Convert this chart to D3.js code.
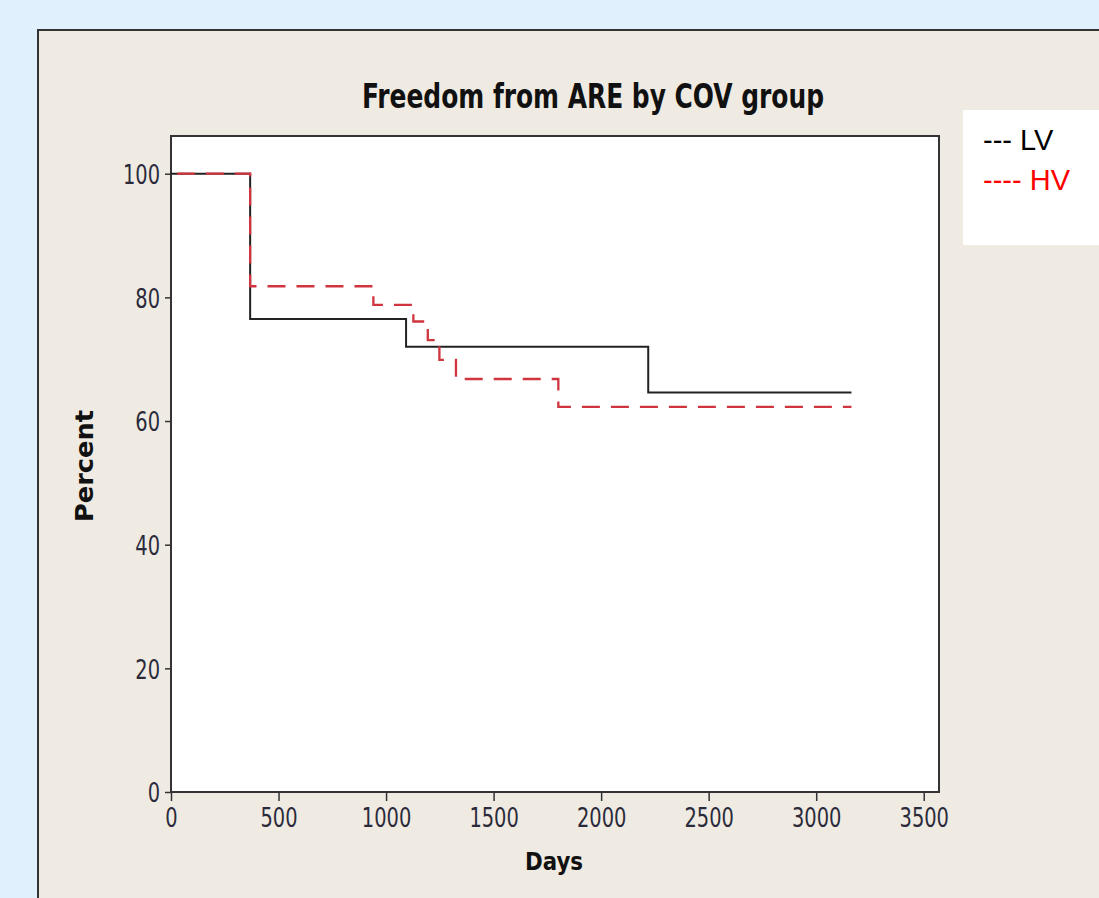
<!DOCTYPE html>
<html>
<head>
<meta charset="utf-8">
<script src="https://cdn.jsdelivr.net/npm/d3@7/dist/d3.min.js"></script>
<style>
  html, body { margin: 0; padding: 0; background: #e0f0fc; }
  svg { display: block; }
</style>
</head>
<body>
<svg id="chart" width="1099" height="898"></svg>
<script>
// ---- data ----
const title = "Freedom from ARE by COV group";
const xLabel = "Days";
const yLabel = "Percent";
const xTicks = [0, 500, 1000, 1500, 2000, 2500, 3000, 3500];
const yTicks = [0, 20, 40, 60, 80, 100];
const seriesNames = ["LV", "HV"];
const legendLabels = ["--- LV", "---- HV"];
// step curves: times (days) and survival (%) after each time
const lvDays   = [0, 368, 1093, 2219, 3164];
const lvValues = [100, 76.5, 72.0, 64.6, 64.6];
const hvDays   = [0, 368, 941, 1127, 1194, 1248, 1325, 1801, 3164];
const hvValues = [100, 81.8, 78.8, 76.1, 73.1, 69.9, 66.8, 62.3, 62.3];

const svg = d3.select("#chart");
const narrow = "'Liberation Sans Narrow', 'DejaVu Sans Condensed', 'Liberation Sans', sans-serif";

// outer panel
svg.append("rect").attr("x", 38).attr("y", 30).attr("width", 1080).attr("height", 900)
  .attr("fill", "#efebe2").attr("stroke", "#333").attr("stroke-width", 2);

const plot = {left: 171, top: 136, right: 939, bottom: 792};
const x = d3.scaleLinear().domain([0, 3571]).range([plot.left, plot.right]);
const y = d3.scaleLinear().domain([0, 106.1]).range([plot.bottom, plot.top]);

// plot area
svg.append("rect").attr("x", plot.left).attr("y", plot.top)
  .attr("width", plot.right - plot.left).attr("height", plot.bottom - plot.top)
  .attr("fill", "#ffffff").attr("stroke", "#333").attr("stroke-width", 2);

// axes
const xAxis = svg.append("g").attr("transform", `translate(0,${plot.bottom})`)
  .call(d3.axisBottom(x).tickValues(xTicks).tickFormat(d3.format("d")).tickSize(9).tickPadding(6));
const yAxis = svg.append("g").attr("transform", `translate(${plot.left},0)`)
  .call(d3.axisLeft(y).tickValues(yTicks).tickFormat(d3.format("d")).tickSize(6).tickPadding(5));
[xAxis, yAxis].forEach(g => {
  g.select(".domain").remove();
  g.selectAll(".tick line").attr("stroke", "#333").attr("stroke-width", 1.5);
  g.selectAll(".tick text").attr("fill", "#2a2a3a")
    .style("font-family", narrow).style("font-size", "27px")
    .attr("transform", "scale(0.8,1)");
});
xAxis.selectAll(".tick text").attr("dy", "0.75em");
yAxis.selectAll(".tick text").attr("dy", "0.36em").attr("x", -11 / 0.8);

// curves
const line = d3.line().x(d => x(d[0])).y(d => y(d[1])).curve(d3.curveStepAfter);
svg.append("path").datum(d3.zip(lvDays, lvValues)).attr("d", line)
  .attr("fill", "none").attr("stroke", "#222").attr("stroke-width", 2);
svg.append("path").datum(d3.zip(hvDays, hvValues)).attr("d", line)
  .attr("fill", "none").attr("stroke", "#d0343f").attr("stroke-width", 2.3)
  .attr("stroke-dasharray", "18,11").attr("stroke-dashoffset", -6);

// title & axis labels
svg.append("text").attr("x", 593).attr("y", 108).attr("text-anchor", "middle")
  .attr("textLength", 462).attr("lengthAdjust", "spacingAndGlyphs")
  .style("font-family", narrow).style("font-weight", "bold").style("font-size", "34px")
  .attr("fill", "#111").text(title);
svg.append("text").attr("x", 554).attr("y", 870).attr("text-anchor", "middle")
  .attr("textLength", 58).attr("lengthAdjust", "spacingAndGlyphs")
  .style("font-family", narrow).style("font-weight", "bold").style("font-size", "24px")
  .attr("fill", "#111").text(xLabel);
svg.append("text").attr("transform", "translate(93,466) rotate(-90)").attr("text-anchor", "middle")
  .attr("textLength", 112).attr("lengthAdjust", "spacingAndGlyphs")
  .style("font-family", narrow).style("font-weight", "bold").style("font-size", "24px")
  .attr("fill", "#111").text(yLabel);

// legend
svg.append("rect").attr("x", 963).attr("y", 110).attr("width", 140).attr("height", 135).attr("fill", "#ffffff");
const legendColors = ["#000000", "#ff0000"];
svg.selectAll(".leg").data(seriesNames).join("text").attr("class", "leg")
  .attr("x", 983).attr("y", (d, i) => 150 + i * 40)
  .style("font-family", "'Liberation Sans', Arial, sans-serif").style("font-size", "29px")
  .attr("fill", (d, i) => legendColors[i]).text((d, i) => legendLabels[i]);
</script>
</body>
</html>
